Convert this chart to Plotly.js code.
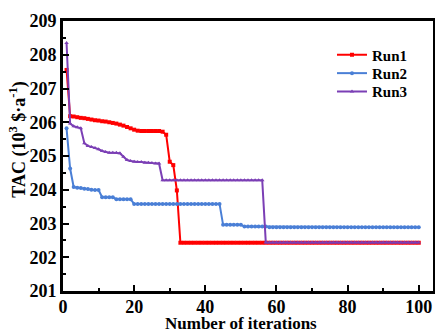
<!DOCTYPE html>
<html>
<head>
<meta charset="utf-8">
<script src="https://cdn.plot.ly/plotly-3.0.1.min.js"></script>
<style>html,body{margin:0;padding:0;background:#fff;}#chart{width:435px;height:332px;}</style>
</head>
<body>
<div id="chart"></div>
<script>
const seriesNames = ["Run1", "Run2", "Run3"];
const iterations = [
  1,2,3,4,5,6,7,8,9,10,11,12,13,14,15,16,17,18,19,20,
  21,22,23,24,25,26,27,28,29,30,31,32,33,34,35,36,37,38,39,40,
  41,42,43,44,45,46,47,48,49,50,51,52,53,54,55,56,57,58,59,60,
  61,62,63,64,65,66,67,68,69,70,71,72,73,74,75,76,77,78,79,80,
  81,82,83,84,85,86,87,88,89,90,91,92,93,94,95,96,97,98,99,100
];
const run1 = [
  207.55,206.18,206.17,206.15,206.13,206.12,206.10,206.08,206.06,206.05,
  206.03,206.02,206.00,205.98,205.96,205.93,205.90,205.86,205.82,205.78,
  205.75,205.74,205.74,205.74,205.74,205.74,205.74,205.72,205.63,204.83,
  204.73,203.98,202.43,202.43,202.43,202.43,202.43,202.43,202.43,202.43,
  202.43,202.43,202.43,202.43,202.43,202.43,202.43,202.43,202.43,202.43,
  202.43,202.43,202.43,202.43,202.43,202.43,202.43,202.43,202.43,202.43,
  202.43,202.43,202.43,202.43,202.43,202.43,202.43,202.43,202.43,202.43,
  202.43,202.43,202.43,202.43,202.43,202.43,202.43,202.43,202.43,202.43,
  202.43,202.43,202.43,202.43,202.43,202.43,202.43,202.43,202.43,202.43,
  202.43,202.43,202.43,202.43,202.43,202.43,202.43,202.43,202.43,202.43
];
const run2 = [
  205.82,204.63,204.08,204.06,204.05,204.03,204.02,204.00,203.99,203.99,
  203.78,203.78,203.78,203.78,203.72,203.72,203.72,203.72,203.72,203.58,
  203.58,203.58,203.58,203.58,203.58,203.58,203.58,203.58,203.58,203.58,
  203.58,203.58,203.58,203.58,203.58,203.58,203.58,203.58,203.58,203.58,
  203.58,203.58,203.58,203.58,202.96,202.96,202.96,202.96,202.96,202.96,
  202.91,202.91,202.91,202.91,202.91,202.91,202.91,202.89,202.89,202.89,
  202.89,202.89,202.89,202.89,202.89,202.89,202.89,202.89,202.89,202.89,
  202.89,202.89,202.89,202.89,202.89,202.89,202.89,202.89,202.89,202.89,
  202.89,202.89,202.89,202.89,202.89,202.89,202.89,202.89,202.89,202.89,
  202.89,202.89,202.89,202.89,202.89,202.89,202.89,202.89,202.89,202.89
];
const run3 = [
  208.35,205.96,205.88,205.85,205.82,205.38,205.30,205.27,205.24,205.20,
  205.15,205.12,205.10,205.10,205.10,205.08,204.98,204.88,204.85,204.83,
  204.82,204.82,204.80,204.80,204.79,204.78,204.78,204.28,204.28,204.28,
  204.28,204.28,204.28,204.28,204.28,204.28,204.28,204.28,204.28,204.28,
  204.28,204.28,204.28,204.28,204.28,204.28,204.28,204.28,204.28,204.28,
  204.28,204.28,204.28,204.28,204.28,204.28,202.44,202.44,202.44,202.44,
  202.44,202.44,202.44,202.44,202.44,202.44,202.44,202.44,202.44,202.44,
  202.44,202.44,202.44,202.44,202.44,202.44,202.44,202.44,202.44,202.44,
  202.44,202.44,202.44,202.44,202.44,202.44,202.44,202.44,202.44,202.44,
  202.44,202.44,202.44,202.44,202.44,202.44,202.44,202.44,202.44,202.44
];
const xTickVals = [0, 20, 40, 60, 80, 100];
const yTickVals = [201, 202, 203, 204, 205, 206, 207, 208, 209];
const xTitle = "Number of iterations";
const yTitle = "TAC (10<sup>3</sup> $·a<sup>-1</sup>)";

const colors = ["#ff0000", "#4a7fd6", "#7b3fb5"];
const symbols = ["square", "circle", "triangle-up"];
const series = [run1, run2, run3];
const legendIds = ["legend", "legend2", "legend3"];
const legendY = [0.874, 0.806, 0.738];
const FONT = "Liberation Serif, Times New Roman, serif";

const traces = series.map((ys, k) => ({
  x: iterations, y: ys, name: seriesNames[k], type: "scatter", mode: "lines+markers",
  legend: legendIds[k],
  line: {color: colors[k], width: 2},
  marker: {symbol: symbols[k], size: 4, color: colors[k]}
}));

function legendBox(k) {
  return {x: 0.727, y: legendY[k], xanchor: "left", yanchor: "middle", bgcolor: "rgba(0,0,0,0)",
          borderwidth: 0,
          font: {family: FONT, size: 15, weight: "bold", color: "#000"}};
}

const layout = {
  width: 435, height: 332,
  margin: {l: 63, r: 2, t: 21, b: 41},
  paper_bgcolor: "#fff", plot_bgcolor: "#fff",
  font: {family: FONT, color: "#000"},
  showlegend: true,
  legend: legendBox(0), legend2: legendBox(1), legend3: legendBox(2),
  xaxis: {
    range: [0, 104], tickvals: xTickVals, ticktext: xTickVals.map(String),
    ticks: "inside", ticklen: 6, tickwidth: 2, tickcolor: "#000", ticklabelstandoff: -3,
    minor: {dtick: 10, tick0: 0, ticks: "inside", ticklen: 3, tickwidth: 2, tickcolor: "#000"},
    showline: true, linewidth: 3, linecolor: "#000", mirror: true,
    showgrid: false, zeroline: false,
    tickfont: {family: FONT, size: 18, weight: "bold"}
  },
  yaxis: {
    range: [201, 209], tickvals: yTickVals, ticktext: yTickVals.map(String),
    ticks: "inside", ticklen: 6, tickwidth: 2, tickcolor: "#000",
    minor: {dtick: 0.5, tick0: 201, ticks: "inside", ticklen: 3, tickwidth: 2, tickcolor: "#000"},
    showline: true, linewidth: 3, linecolor: "#000", mirror: true,
    showgrid: false, zeroline: false,
    tickfont: {family: FONT, size: 18, weight: "bold"}
  },
  annotations: [
    {text: xTitle, xref: "paper", yref: "paper", x: 0.481, y: -0.12, xanchor: "center", yanchor: "middle",
     showarrow: false, font: {family: FONT, size: 17, weight: "bold", color: "#000"}},
    {text: yTitle, xref: "paper", yref: "paper", x: -0.122, y: 0.56, xanchor: "center", yanchor: "middle",
     textangle: -90, showarrow: false, font: {family: FONT, size: 18, weight: "bold", color: "#000"}}
  ]
};
Plotly.newPlot("chart", traces, layout, {displayModeBar: false, staticPlot: true});
</script>
</body>
</html>
